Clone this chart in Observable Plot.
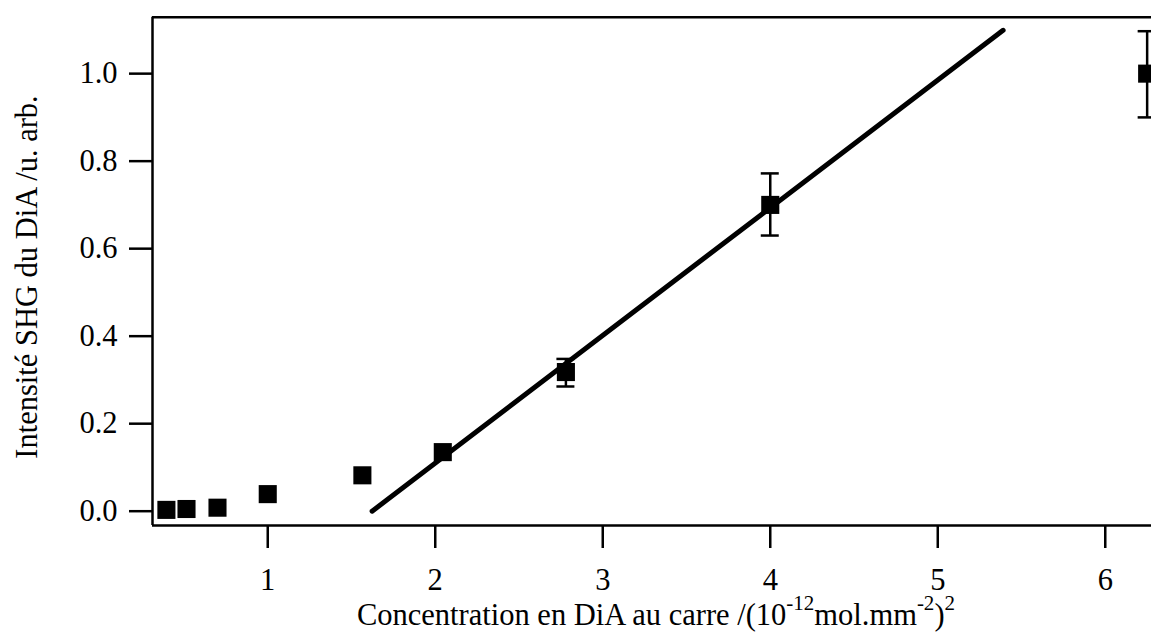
<!DOCTYPE html>
<html>
<head>
<meta charset="utf-8">
<script src="https://cdn.jsdelivr.net/npm/d3@7"></script>
<script src="https://cdn.jsdelivr.net/npm/@observablehq/plot@0.6"></script>
<style>
  html, body { margin: 0; padding: 0; background: #fff; }
  #chart svg { display: block; }
</style>
</head>
<body>
<div id="chart"></div>
<script>
// Measured data
const concX = [0.395, 0.515, 0.70, 1.0, 1.565, 2.045, 2.78, 4.0, 6.25];
const shgY  = [0.003, 0.005, 0.008, 0.039, 0.082, 0.135, 0.318, 0.70, 1.0];
const errLo = [null, null, null, null, null, null, 0.285, 0.630, 0.900];
const errHi = [null, null, null, null, null, null, 0.348, 0.772, 1.097];
// Linear fit line endpoints
const fitX = [1.623, 5.39];
const fitY = [0.0, 1.099];
const xTicks = [1, 2, 3, 4, 5, 6];
const yTicks = [0, 0.2, 0.4, 0.6, 0.8, 1.0];
const xDomain = [0.312, 6.276];
const yDomain = [-0.0327, 1.129];

const points = concX.map((x, i) => ({x, y: shgY[i], lo: errLo[i], hi: errHi[i]}));
const errs = points.filter(d => d.lo != null);
const fit = fitX.map((x, i) => ({x, y: fitY[i]}));

const FONT = "'Liberation Serif', 'Times New Roman', serif";
const W = 1151, H = 633;
const plot = Plot.plot({
  width: W,
  height: H,
  marginLeft: 152,
  marginRight: 0,
  marginTop: 16.7,
  marginBottom: 108,
  style: { fontFamily: FONT, fontSize: "30.5px", color: "#000", background: "#fff" },
  x: { domain: xDomain },
  y: { domain: yDomain },
  marks: [
    Plot.axisX({ ticks: xTicks, tickSize: 23, tickPadding: 20, strokeWidth: 2.5, label: null, tickFormat: d3.format("d") }),
    Plot.axisY({ ticks: yTicks, tickSize: 23, tickPadding: 12, strokeWidth: 2.5, label: null, tickFormat: d3.format(".1f") }),
    Plot.ruleX([xDomain[0]], { stroke: "#000", strokeWidth: 2.5 }),
    Plot.ruleY([yDomain[0]], { stroke: "#000", strokeWidth: 2.5 }),
    Plot.ruleY([yDomain[1]], { stroke: "#000", strokeWidth: 2.5 }),
    Plot.line(fit, { x: "x", y: "y", stroke: "#000", strokeWidth: 5, strokeLinecap: "round" }),
    Plot.ruleX(errs, { x: "x", y1: "lo", y2: "hi", stroke: "#000", strokeWidth: 2.5 }),
    Plot.ruleY(errs, { y: "lo", x1: "x", x2: "x", insetLeft: -9, insetRight: -9, stroke: "#000", strokeWidth: 2.5 }),
    Plot.ruleY(errs, { y: "hi", x1: "x", x2: "x", insetLeft: -9, insetRight: -9, stroke: "#000", strokeWidth: 2.5 }),
    Plot.dot(points, { x: "x", y: "y", symbol: "square", r: 10.2, fill: "#000", stroke: "none" })
  ]
});
document.getElementById("chart").appendChild(plot);

const svg = d3.select(plot);
// X axis label with superscripts
const xl = svg.append("text")
  .attr("x", 656)
  .attr("y", 625)
  .attr("text-anchor", "middle")
  .attr("font-family", FONT)
  .attr("font-size", 30.5)
  .attr("fill", "#000");
xl.append("tspan").text("Concentration en DiA au carre /(10");
xl.append("tspan").attr("dy", -15).attr("font-size", 21).text("-12");
xl.append("tspan").attr("dy", 15).text("mol.mm");
xl.append("tspan").attr("dy", -15).attr("font-size", 21).text("-2");
xl.append("tspan").attr("dy", 15).text(")");
xl.append("tspan").attr("dy", -15).attr("font-size", 21).text("2");

// Y axis label
svg.append("text")
  .attr("transform", "translate(37,277) rotate(-90)")
  .attr("text-anchor", "middle")
  .attr("font-family", FONT)
  .attr("font-size", 30.5)
  .attr("fill", "#000")
  .text("Intensité SHG du DiA /u. arb.");
</script>
</body>
</html>
